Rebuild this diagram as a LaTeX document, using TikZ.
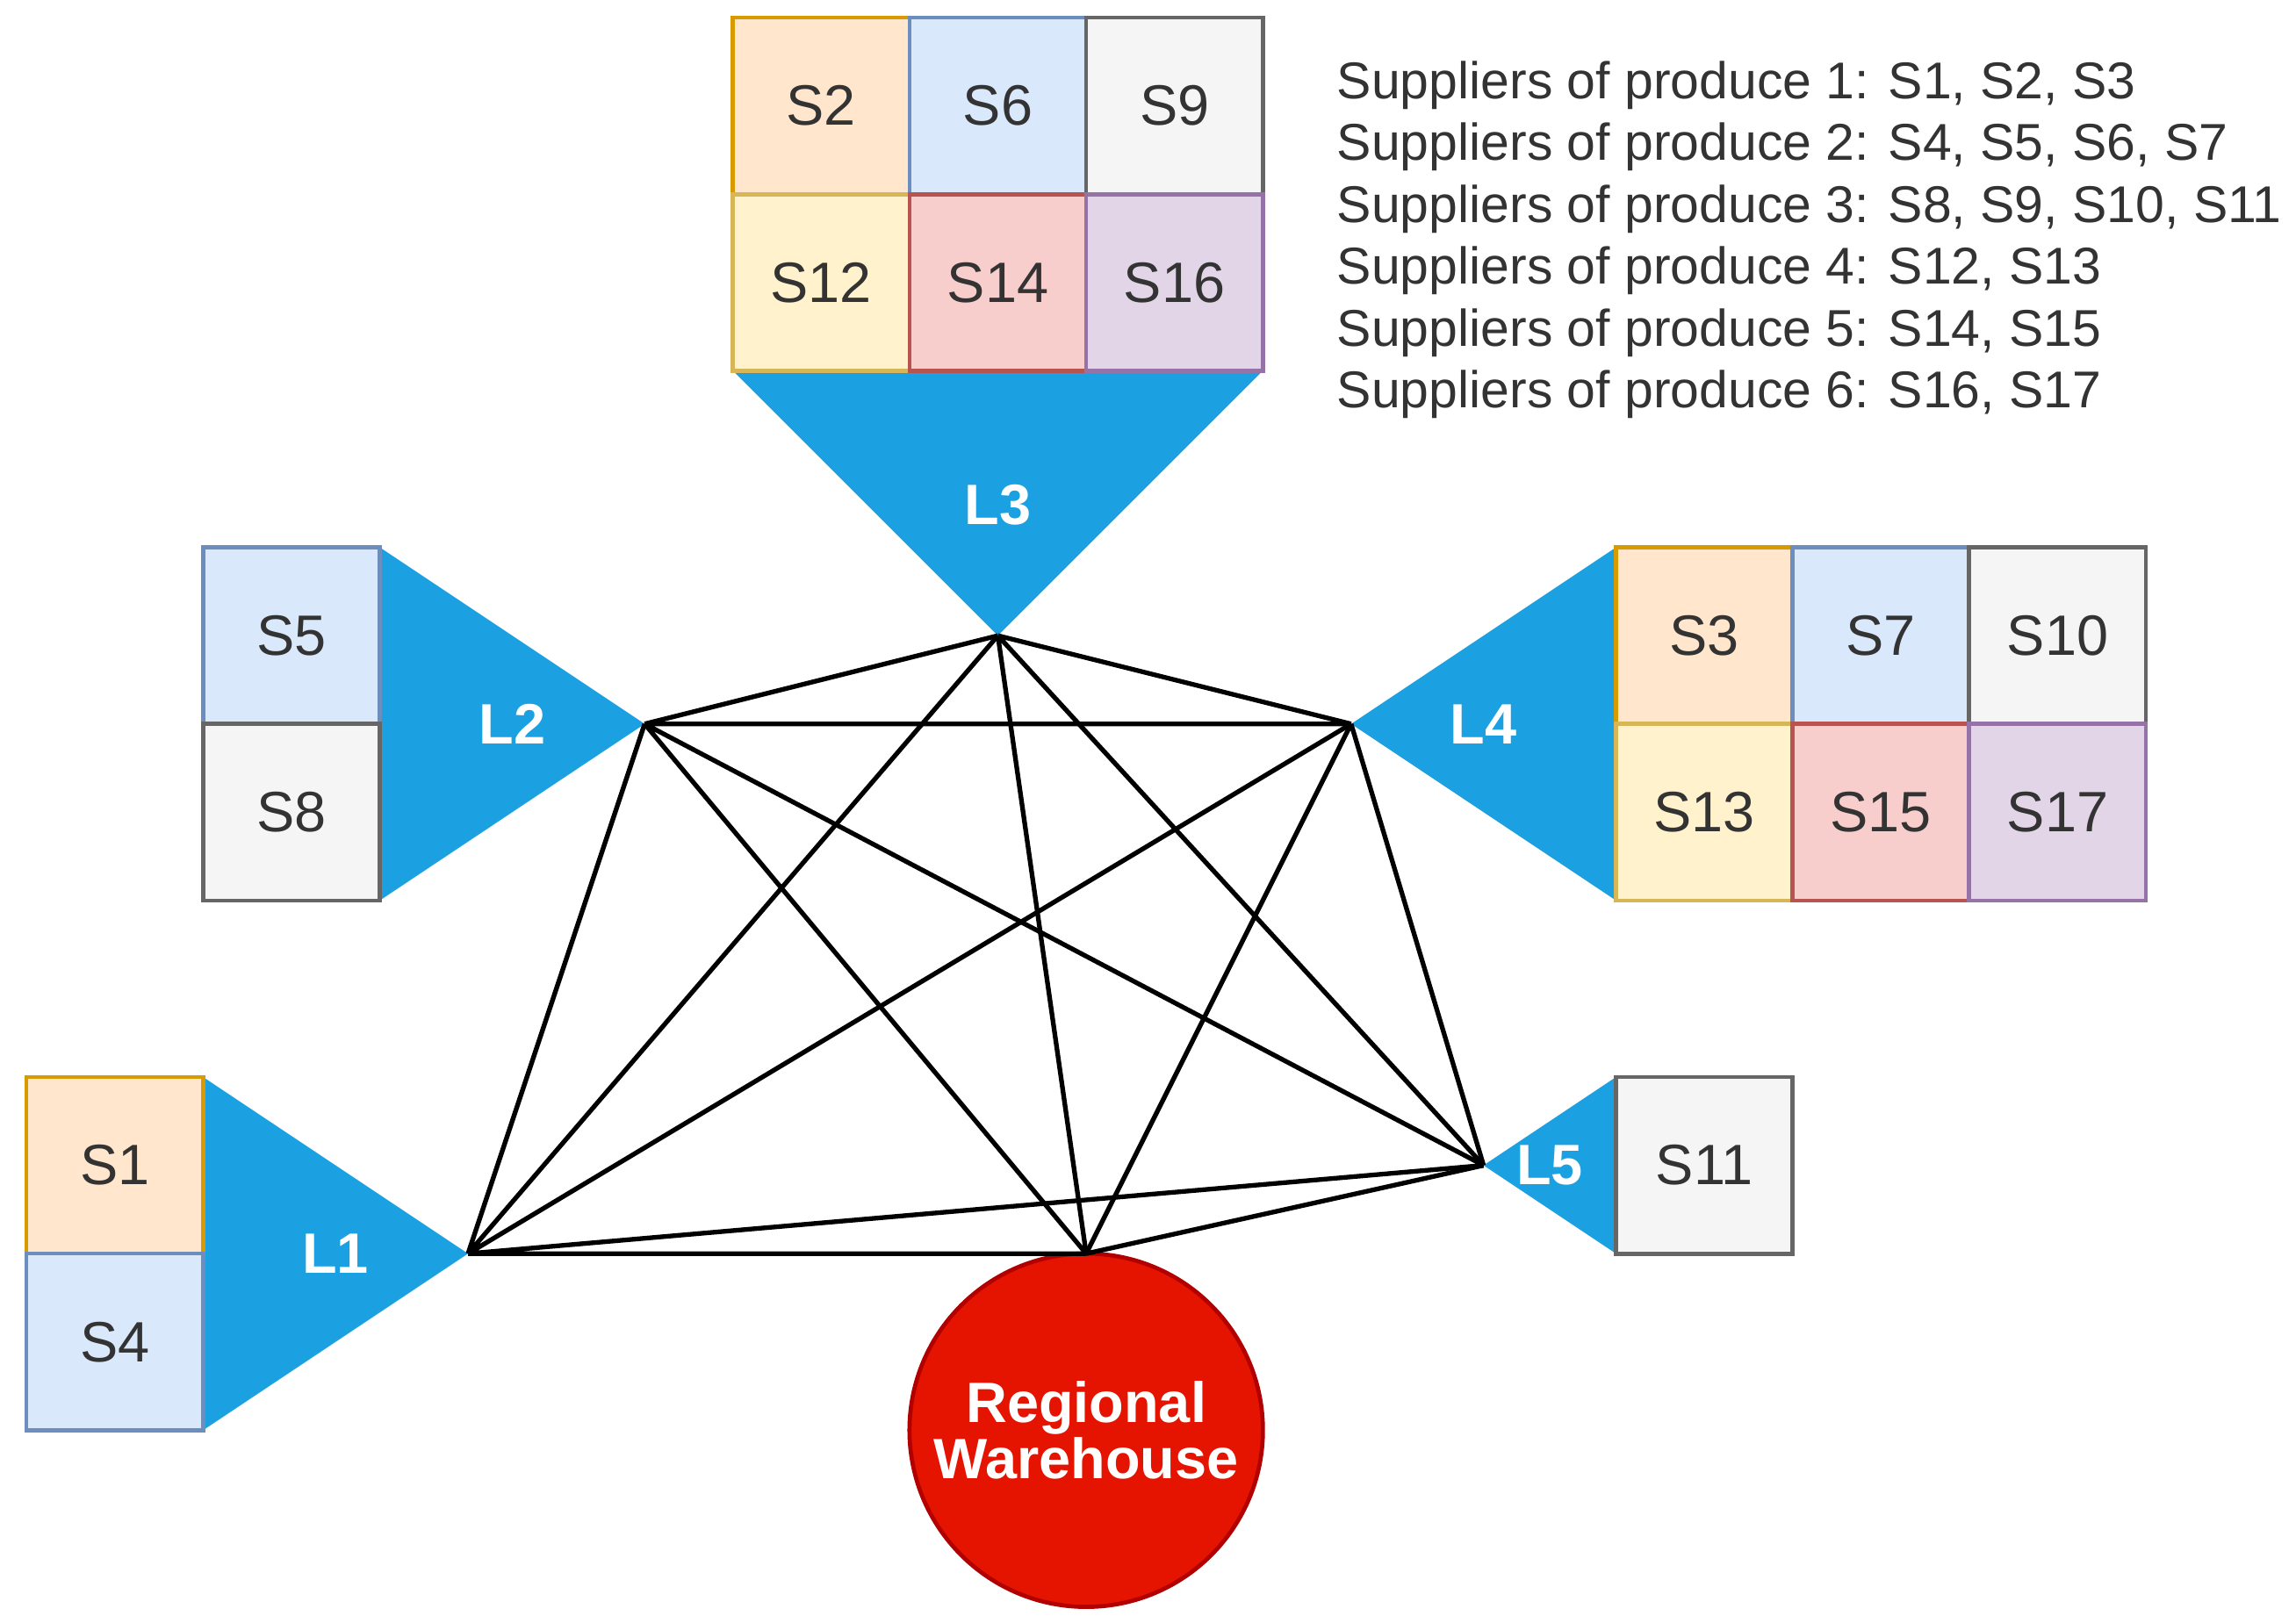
\documentclass[tikz,border=0pt]{standalone}
\usepackage{fontspec}
\setmainfont{Liberation Sans}
\usetikzlibrary{positioning}
\definecolor{orF}{HTML}{FFE6CC}\definecolor{orD}{HTML}{D79B00}
\definecolor{blF}{HTML}{DAE8FC}\definecolor{blD}{HTML}{6C8EBF}
\definecolor{grF}{HTML}{F5F5F5}\definecolor{grD}{HTML}{666666}
\definecolor{yeF}{HTML}{FFF2CC}\definecolor{yeD}{HTML}{D6B656}
\definecolor{reF}{HTML}{F8CECC}\definecolor{reD}{HTML}{B85450}
\definecolor{puF}{HTML}{E1D5E7}\definecolor{puD}{HTML}{9673A6}
\definecolor{triF}{HTML}{1BA1E2}
\definecolor{whF}{HTML}{E51400}\definecolor{whD}{HTML}{B20000}
\tikzset{
    cell/.style = {draw=#1D, fill=#1F, rectangle, minimum size=1.2cm, inner sep=0pt, outer sep=0pt, line width=0.8pt, font=\fontsize{11}{13}\selectfont, text=black!80},
    tri/.style = {fill=triF, draw=none},
    lab/.style = {text=white, font=\bfseries\fontsize{11}{13}\selectfont},
    link/.style = {draw=black, line width=0.9pt},
    note/.style = {anchor=west, font=\fontsize{10}{12}\selectfont, text=black!80}
}
\begin{document}
\begin{tikzpicture}[x=0.01cm, y=-0.01cm]
    \useasboundingbox (0,0) rectangle (1560,1098);
    % L3
    \fill[tri] (498,252) -- (858,252) -- (678,432) -- cycle;
    \coordinate (l3) at (678,432);
    \node (l3lab) [lab] at (678,343) {L3};
    \node (s2) [cell=or] at (558,72) {S2};
    \node (s6) [cell=bl] at (678,72) {S6};
    \node (s9) [cell=gr] at (798,72) {S9};
    \node (s12) [cell=ye] at (558,192) {S12};
    \node (s14) [cell=re] at (678,192) {S14};
    \node (s16) [cell=pu] at (798,192) {S16};
    % L2
    \fill[tri] (258,372) -- (258,612) -- (438,492) -- cycle;
    \coordinate (l2) at (438,492);
    \node (l2lab) [lab] at (348,492) {L2};
    \node (s5) [cell=bl] at (198,432) {S5};
    \node (s8) [cell=gr] at (198,552) {S8};
    % L4
    \fill[tri] (1098,372) -- (1098,612) -- (918,492) -- cycle;
    \coordinate (l4) at (918,492);
    \node (l4lab) [lab] at (1008,492) {L4};
    \node (s3) [cell=or] at (1158,432) {S3};
    \node (s7) [cell=bl] at (1278,432) {S7};
    \node (s10) [cell=gr] at (1398,432) {S10};
    \node (s13) [cell=ye] at (1158,552) {S13};
    \node (s15) [cell=re] at (1278,552) {S15};
    \node (s17) [cell=pu] at (1398,552) {S17};
    % L1
    \fill[tri] (138,732) -- (138,972) -- (318,852) -- cycle;
    \coordinate (l1) at (318,852);
    \node (l1lab) [lab] at (228,852) {L1};
    \node (s1) [cell=or] at (78,792) {S1};
    \node (s4) [cell=bl] at (78,912) {S4};
    % L5
    \fill[tri] (1098,732) -- (1098,852) -- (1008,792) -- cycle;
    \coordinate (l5) at (1008,792);
    \node (l5lab) [lab] at (1053,792) {L5};
    \node (s11) [cell=gr] at (1158,792) {S11};
    % warehouse
    \node (wh) [circle, fill=whF, draw=whD, line width=0.8pt, minimum size=2.4cm, inner sep=0pt, align=center, lab] at (738,972) {Regional\\[-2pt]Warehouse};
    \coordinate (rw) at (738,852);
    % links
    \draw[link] (l1) -- (l2) (l1) -- (l3) (l1) -- (l4) (l1) -- (l5) (l1) -- (rw);
    \draw[link] (l2) -- (l3) (l2) -- (l4) (l2) -- (l5) (l2) -- (rw);
    \draw[link] (l3) -- (l4) (l3) -- (l5) (l3) -- (rw);
    \draw[link] (l4) -- (l5) (l4) -- (rw) (l5) -- (rw);
    % legend
    \node (n1) [note] at (896,58) {Suppliers of produce 1: S1, S2, S3};
    \node (n2) [note] at (896,100) {Suppliers of produce 2: S4, S5, S6, S7};
    \node (n3) [note] at (896,142) {Suppliers of produce 3: S8, S9, S10, S11};
    \node (n4) [note] at (896,184) {Suppliers of produce 4: S12, S13};
    \node (n5) [note] at (896,226) {Suppliers of produce 5: S14, S15};
    \node (n6) [note] at (896,268) {Suppliers of produce 6: S16, S17};
\end{tikzpicture}
\end{document}
